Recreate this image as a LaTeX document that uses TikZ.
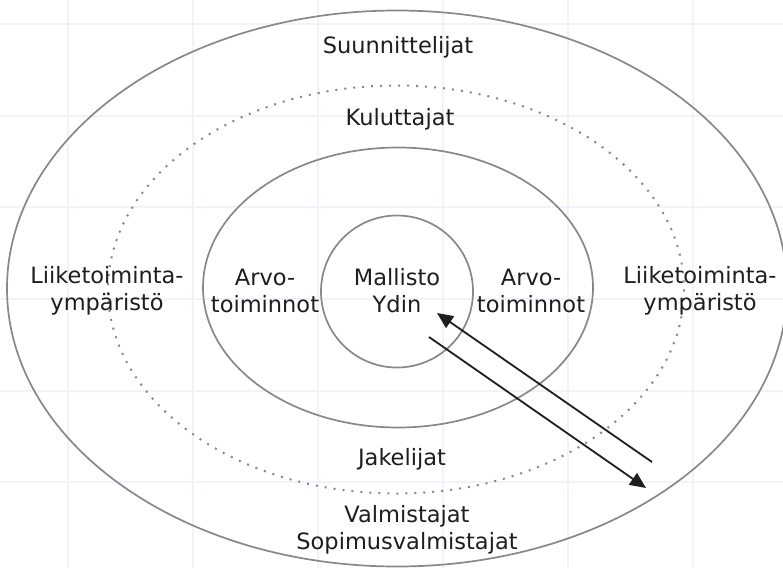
\documentclass[tikz,border=0pt]{standalone}
\usepackage{fontspec}
\setmainfont{DejaVu Sans}
\usetikzlibrary{arrows.meta}
\definecolor{gridc}{RGB}{240,244,250}
\definecolor{ringc}{RGB}{136,136,136}
\definecolor{txt}{RGB}{30,30,30}
\tikzset{
  ring/.style={draw=ringc, line width=1.7pt},
  dotring/.style={draw=ringc, line width=2pt, dash pattern=on 2pt off 7pt},
  lbl/.style={text=txt, font=\fontsize{22.5}{27}\selectfont, align=center, inner sep=0pt},
  flow/.style={draw=txt, line width=1.8pt, -{Triangle[length=16pt,width=14pt]}}
}
\begin{document}
\begin{tikzpicture}[x=1pt,y=-1pt]
\useasboundingbox (0,0) rectangle (783,568);
\fill[white] (0,0) rectangle (783,568);
% faint grid
\foreach \gx in {68,193,318,443,568,693} \draw[gridc, line width=2pt] (\gx,0) -- (\gx,568);
\foreach \gy in {24,116,207,299,391,482} \draw[gridc, line width=2pt] (0,\gy) -- (783,\gy);
% rings
\draw[ring] (397,288.5) ellipse [x radius=390, y radius=278];
\draw[dotring] (396,289.5) ellipse [x radius=288, y radius=204];
\draw[ring] (398,287.5) ellipse [x radius=195, y radius=140];
\draw[ring] (397,291.5) circle [radius=76];
% labels
\node[lbl] (suun) at (398,47) {Suunnittelijat};
\node[lbl] (kulu) at (400,119) {Kuluttajat};
\node[lbl] (liikL) at (107,291) {Liiketoiminta-\\ympäristö};
\node[lbl] (arvoL) at (265,291) {Arvo-\\toiminnot};
\node[lbl] (mall) at (397,291) {Mallisto\\Ydin};
\node[lbl] (arvoR) at (531,291) {Arvo-\\toiminnot};
\node[lbl] (liikR) at (700,291) {Liiketoiminta-\\ympäristö};
\node[lbl] (jake) at (402,459) {Jakelijat};
\node[lbl] (valm) at (407,530) {Valmistajat\\Sopimusvalmistajat};
% arrows
\coordinate (a1s) at (652,462);
\coordinate (a1e) at (437,313);
\coordinate (a2s) at (429,337);
\coordinate (a2e) at (646,488);
\draw[flow] (a1s) -- (a1e);
\draw[flow] (a2s) -- (a2e);
\end{tikzpicture}
\end{document}
